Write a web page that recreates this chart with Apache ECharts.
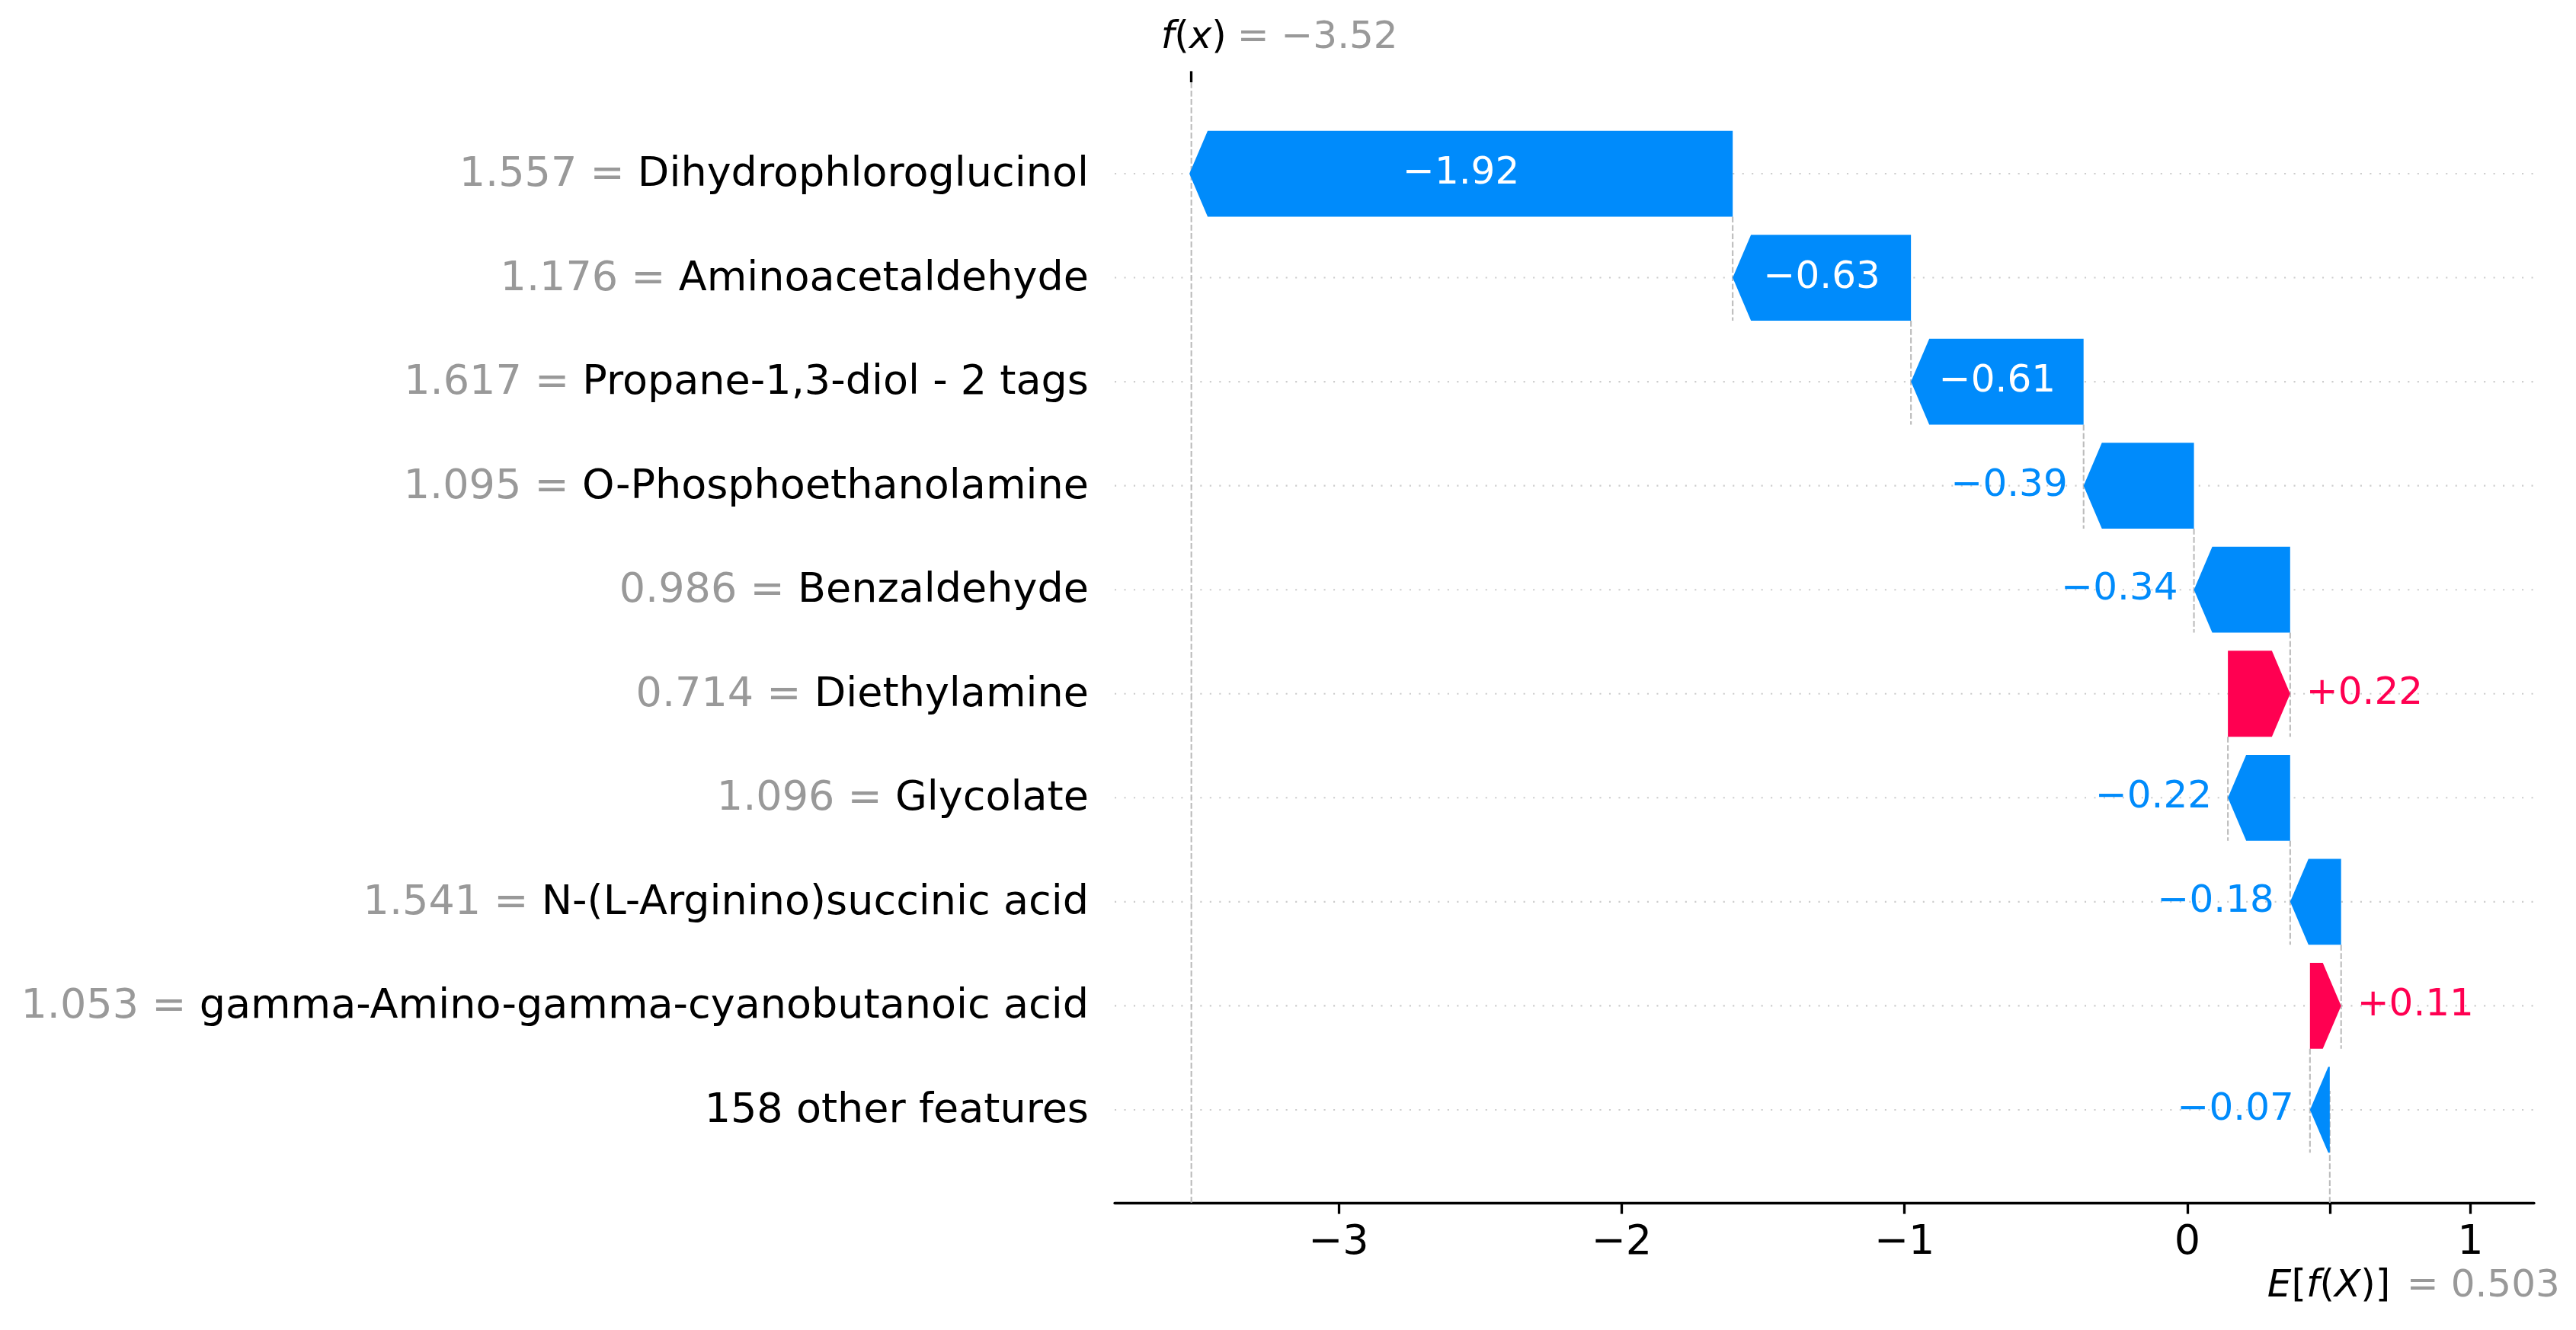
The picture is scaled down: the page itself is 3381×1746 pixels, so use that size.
<!DOCTYPE html>
<html>
<head>
<meta charset="utf-8">
<script src="https://cdn.jsdelivr.net/npm/echarts@6/dist/echarts.min.js"></script>
<style>html,body{margin:0;padding:0;background:#fff}#c{width:3381px;height:1746px}</style>
</head>
<body>
<div id="c"></div>
<script>
// ---- data (top row first) ----
const featureNames = [
  'Dihydrophloroglucinol',
  'Aminoacetaldehyde',
  'Propane-1,3-diol - 2 tags',
  'O-Phosphoethanolamine',
  'Benzaldehyde',
  'Diethylamine',
  'Glycolate',
  'N-(L-Arginino)succinic acid',
  'gamma-Amino-gamma-cyanobutanoic acid',
  '158 other features'
];
const featureValues = ['1.557','1.176','1.617','1.095','0.986','0.714','1.096','1.541','1.053',''];
const shapValues = [-1.92, -0.63, -0.61, -0.39, -0.34, 0.22, -0.22, -0.18, 0.11, -0.07];
const baseValue = 0.503;
const fxValue = -3.52;
const xTicks = [-3, -2, -1, 0, 1];

// ---- styling constants ----
const BLUE = '#008bfb', RED = '#ff0051';
const FONT = 'DejaVu Sans';
const X_MIN = -3.791, X_MAX = 1.225, Y_MIN = -0.879, Y_MAX = 9.894;
const HALF = 0.413;      // half bar height in row units
const HEAD_PX = 24;      // arrow head length in px
const LABEL_GAP = 21;

const n = shapValues.length;
const starts = new Array(n), ends = new Array(n);
let acc = baseValue;
for (let i = n - 1; i >= 0; i--) { starts[i] = acc; acc += shapValues[i]; ends[i] = acc; }

const mctx = document.createElement('canvas').getContext('2d');
mctx.font = '50px "DejaVu Sans"';
const tw = s => mctx.measureText(s).width;
const fmtSigned = v => (v < 0 ? '\u2212' : '+') + Math.abs(v).toFixed(2);
const fmtNum = (v, d) => (v < 0 ? '\u2212' : '') + Math.abs(v).toFixed(d);

const chart = echarts.init(document.getElementById('c'), null, {renderer: 'canvas', width: 3381, height: 1746, devicePixelRatio: 1});

const option = {
  animation: false,
  backgroundColor: '#ffffff',
  textStyle: {fontFamily: FONT},
  grid: {left: 1463, right: 55, top: 108, bottom: 167, containLabel: false},
  xAxis: [
    {
      type: 'value', position: 'bottom', min: X_MIN, max: X_MAX,
      axisLine: {show: true, onZero: false, lineStyle: {color: '#000', width: 3.3}},
      axisTick: {show: true, length: 14.6, lineStyle: {color: '#000', width: 3.3}, customValues: xTicks.concat([baseValue])},
      axisLabel: {show: true, customValues: xTicks, margin: 26, fontSize: 54, color: '#000', fontFamily: FONT,
        formatter: v => v < 0 ? '\u2212' + Math.abs(v) : String(v)},
      splitLine: {show: false}
    },
    {
      type: 'value', position: 'top', min: X_MIN, max: X_MAX,
      axisLine: {show: false, onZero: false},
      axisTick: {show: true, length: 14.6, lineStyle: {color: '#000', width: 3.3}, customValues: [fxValue]},
      axisLabel: {show: false},
      splitLine: {show: false}
    }
  ],
  yAxis: {
    type: 'value', inverse: true, min: Y_MIN, max: Y_MAX,
    axisLine: {show: false, onZero: false}, axisTick: {show: false}, splitLine: {show: false},
    axisLabel: {
      customValues: featureNames.map((_, i) => i), margin: 34, fontSize: 54, fontFamily: FONT, color: '#000',
      formatter: v => {
        const i = Math.round(v);
        return featureValues[i] ? '{g|' + featureValues[i] + ' = }{b|' + featureNames[i] + '}' : '{b|' + featureNames[i] + '}';
      },
      rich: {
        g: {color: '#999999', fontSize: 54, fontFamily: FONT, padding: [4, 0, 0, 0]},
        b: {color: '#000000', fontSize: 54, fontFamily: FONT, padding: [4, 0, 0, 0]}
      }
    }
  },
  series: [
    { // dotted row lines
      type: 'custom', xAxisIndex: 0, yAxisIndex: 0, clip: false, z: 1, silent: true,
      data: featureNames.map((_, i) => [i]),
      encode: {y: 0},
      renderItem: (p, api) => {
        const i = api.value(0);
        const l = api.coord([X_MIN, i]), r = api.coord([X_MAX, i]);
        return {type: 'line', shape: {x1: l[0], y1: l[1], x2: r[0], y2: r[1]},
          style: {stroke: '#cccccc', lineWidth: 2.08, lineDash: [2.08, 10.4], lineCap: 'butt'}};
      }
    },
    { // dashed connectors between rows
      type: 'custom', xAxisIndex: 0, yAxisIndex: 0, clip: false, z: 1, silent: true,
      data: shapValues.slice(1).map((_, k) => [k + 1, ends[k + 1]]),
      encode: {y: 0, x: 1},
      renderItem: (p, api) => {
        const i = api.value(0), x = api.value(1);
        const a = api.coord([x, i - 1 + HALF]), b = api.coord([x, i + HALF]);
        return {type: 'line', shape: {x1: a[0], y1: a[1], x2: b[0], y2: b[1]},
          style: {stroke: '#bbbbbb', lineWidth: 2.08, lineDash: [7.7, 3.3]}};
      }
    },
    { // f(x) and E[f(X)] reference lines + labels
      type: 'custom', xAxisIndex: 0, yAxisIndex: 0, clip: false, z: 1, silent: true,
      data: [[fxValue, baseValue]],
      encode: {x: [0, 1]},
      renderItem: (p, api) => {
        const fx = api.value(0), base = api.value(1);
        const f1 = api.coord([fx, Y_MIN]), f2 = api.coord([fx, Y_MAX]);
        const b1 = api.coord([base, Y_MAX]), b2 = api.coord([base, Y_MAX - 0.1 * (Y_MAX - Y_MIN)]);
        const dash = {stroke: '#bbbbbb', lineWidth: 2.08, lineDash: [7.7, 3.3]};
        const it = {fontStyle: 'italic', fontSize: 50, fontFamily: FONT, fill: '#000', color: '#000'};
        const nm = {fontStyle: 'normal', fontSize: 50, fontFamily: FONT, fill: '#000', color: '#000'};
        return {type: 'group', children: [
          {type: 'line', shape: {x1: f1[0], y1: f1[1], x2: f2[0], y2: f2[1]}, style: dash},
          {type: 'line', shape: {x1: b1[0], y1: b1[1], x2: b2[0], y2: b2[1]}, style: dash},
          {type: 'text', x: f1[0] - 40, y: 50, style: {text: '{i|f}{n|(}{i|x}{n|)}', rich: {i: it, n: nm},
            fontSize: 50, fontFamily: FONT, align: 'left', verticalAlign: 'middle'}},
          {type: 'text', x: f1[0] + 60, y: 50, style: {text: '= ' + fmtNum(fx, 2), fill: '#999999',
            fontSize: 50, fontFamily: FONT, align: 'left', verticalAlign: 'middle'}},
          {type: 'text', x: b1[0] - 82, y: 1689, style: {text: '{i|E}{n|[}{i|f}{n|(}{i|X}{n|)]}', rich: {i: it, n: nm},
            fontSize: 50, fontFamily: FONT, align: 'left', verticalAlign: 'middle'}},
          {type: 'text', x: b1[0] + 101, y: 1689, style: {text: '= ' + fmtNum(base, 3), fill: '#999999',
            fontSize: 50, fontFamily: FONT, align: 'left', verticalAlign: 'middle'}}
        ]};
      }
    },
    { // arrows + value labels
      type: 'custom', xAxisIndex: 0, yAxisIndex: 0, clip: false, z: 3, silent: true,
      data: shapValues.map((v, i) => [i, starts[i], ends[i], v]),
      encode: {y: 0, x: [1, 2]},
      renderItem: (p, api) => {
        const i = api.value(0), a = api.value(1), b = api.value(2), v = api.value(3);
        const pa = api.coord([a, i]), pb = api.coord([b, i]);
        const yt = api.coord([a, i - HALF])[1], yb = api.coord([a, i + HALF])[1];
        const top = Math.min(yt, yb), bot = Math.max(yt, yb), yc = pa[1];
        const len = Math.abs(pb[0] - pa[0]);
        const hl = Math.min(HEAD_PX, len);
        const dir = v < 0 ? -1 : 1;
        const neck = pb[0] - dir * hl;
        const color = v < 0 ? BLUE : RED;
        const pts = [[pa[0], top], [neck, top], [pb[0], yc], [neck, bot], [pa[0], bot]];
        const txt = fmtSigned(v);
        let tx, align, fill;
        if (tw(txt) < len) { tx = (pa[0] + pb[0]) / 2; align = 'center'; fill = '#ffffff'; }
        else if (v < 0) { tx = pb[0] - LABEL_GAP; align = 'right'; fill = BLUE; }
        else { tx = pb[0] + LABEL_GAP; align = 'left'; fill = RED; }
        return {type: 'group', children: [
          {type: 'polygon', shape: {points: pts}, style: {fill: color, stroke: null}},
          {type: 'text', x: tx, y: yc, style: {text: txt, fill: fill, fontSize: 50, fontFamily: FONT, align: align, verticalAlign: 'middle'}}
        ]};
      }
    }
  ]
};
chart.setOption(option);
</script>
</body>
</html>
